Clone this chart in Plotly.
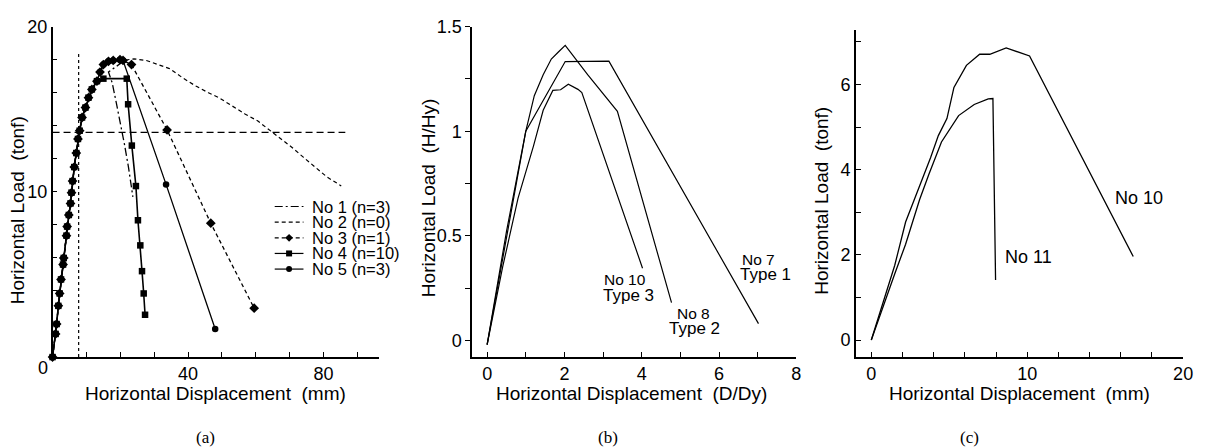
import plotly.graph_objects as go

W, H = 1210, 448
SANS = "Liberation Sans, Arial, Helvetica, sans-serif"
SERIF = "Liberation Serif, Times New Roman, serif"
INK = "black"

# ---------------- (a) load - displacement, specimens No 1 - No 5 ----------------
# common rising branch (lower part, shared by all specimens)
rise_low_disp = [0, 0.9, 1.2, 1.7, 2.1, 2.5, 3.1, 3.3, 4.1, 4.3, 4.8, 5.3, 5.6, 5.9,
                 6.4, 7.0, 7.5, 8.0, 8.7, 9.7, 10.6, 11.6, 13.1]
rise_low_load = [0, 1.4, 2.0, 3.1, 3.85, 4.7, 5.6, 6.0, 7.35, 7.9, 8.6, 9.3, 9.95, 10.65,
                 11.5, 12.35, 13.2, 13.7, 14.5, 15.1, 15.7, 16.2, 16.7]
# upper part of the rising branch up to the peak
rise_top_disp = [14.0, 15.0, 16.5, 17.9, 19.9, 20.8]
rise_top_load = [17.25, 17.7, 17.9, 17.95, 18.0, 17.95]

# post-peak branches
no1_disp = [16.5, 17.6, 18.8, 20.0, 21.2, 22.4, 23.7]
no1_load = [17.25, 16.6, 15.4, 14.2, 12.9, 11.5, 9.7]
no2_disp = [24.0, 27.7, 31.0, 34.5, 38.4, 42.3, 46.0, 49.1, 53.0, 56.9, 60.5, 63.7,
            67.0, 70.6, 74.0, 77.4, 81.0, 85.2]
no2_load = [18.05, 17.95, 17.7, 17.46, 16.9, 16.4, 16.0, 15.7, 15.2, 14.7, 14.3, 13.8,
            13.3, 12.7, 12.1, 11.5, 10.9, 10.36]
no3_disp = [23.3, 33.8, 46.7, 59.5]
no3_load = [17.7, 13.75, 8.1, 2.96]
no4_disp = [15.0, 21.9, 22.3, 23.4, 24.6, 25.2, 25.9, 26.4, 26.9, 27.3]
no4_load = [16.85, 16.85, 15.3, 12.8, 10.35, 8.28, 6.76, 5.2, 3.85, 2.56]
no5_disp = [33.5, 48.0]
no5_load = [10.45, 1.7]

# yield reference lines
yield_disp = 7.7
yield_line_top = 18.5
yield_load = 13.6
yield_line_end = 86.4

legend_names = ["No 1 (n=3)", "No 2 (n=0)", "No 3 (n=1)", "No 4 (n=10)", "No 5 (n=3)"]

# ---------------- (b) normalised load - displacement ----------------
b7_disp = [0, 0.5, 1.0, 2.02, 3.15, 7.02]
b7_load = [-0.02, 0.5, 1.0, 1.333, 1.335, 0.08]
b8_disp = [0, 0.5, 1.0, 1.22, 1.45, 1.66, 1.85, 2.02, 2.6, 3.37, 4.77]
b8_load = [-0.02, 0.52, 1.0, 1.17, 1.27, 1.345, 1.38, 1.41, 1.27, 1.095, 0.18]
b10_disp = [0, 0.4, 0.8, 1.2, 1.45, 1.7, 1.9, 2.1, 2.35, 2.45, 4.02]
b10_load = [-0.02, 0.35, 0.68, 0.93, 1.1, 1.195, 1.198, 1.225, 1.2, 1.185, 0.345]

# ---------------- (c) load - displacement, No 10 and No 11 ----------------
c10_disp = [0, 0.8, 1.5, 2.2, 3.25, 3.8, 4.3, 4.85, 5.3, 6.1, 6.95, 7.6, 8.65, 10.15, 16.8]
c10_load = [0, 0.95, 1.75, 2.77, 3.75, 4.28, 4.8, 5.2, 5.93, 6.45, 6.71, 6.71, 6.86, 6.67, 1.96]
c11_disp = [0, 0.8, 1.5, 2.2, 3.1, 3.7, 4.5, 5.6, 6.6, 7.5, 7.8, 7.97]
c11_load = [0, 0.85, 1.55, 2.25, 3.3, 3.9, 4.65, 5.27, 5.53, 5.66, 5.67, 1.41]


def fx(px):
    return px / W


def fy(py):
    return 1 - py / H


fig = go.Figure()
LW = 1.3


def line(x, y, ax, dash="solid", marker=None, width=LW):
    kw = dict(x=x, y=y, xaxis="x" + ax, yaxis="y" + ax, showlegend=False,
              hoverinfo="skip", cliponaxis=False,
              line=dict(color=INK, width=width, dash=dash))
    if marker:
        kw["mode"] = "lines+markers"
        kw["marker"] = dict(symbol=marker[0], size=marker[1], color=INK,
                            line=dict(width=0))
    else:
        kw["mode"] = "lines"
    fig.add_trace(go.Scatter(**kw))


# ---- panel (a)
line([yield_disp, yield_disp], [0, yield_line_top], "", dash="3px,3px", width=1.2)
line([0, yield_line_end], [yield_load, yield_load], "", dash="7px,4px", width=1.2)
line(rise_low_disp + rise_top_disp + no2_disp, rise_low_load + rise_top_load + no2_load,
     "", dash="4px,3px", width=1.2)
line(rise_low_disp + rise_top_disp + [19.9] + no1_disp,
     rise_low_load + rise_top_load + [17.75] + no1_load, "", dash="8px,3px,2px,3px")
line(rise_low_disp + rise_top_disp + no3_disp, rise_low_load + rise_top_load + no3_load,
     "", dash="4px,3px", marker=("diamond", 7.5))
line(rise_low_disp + rise_top_disp + no5_disp, rise_low_load + rise_top_load + no5_load,
     "", marker=("circle", 6.5))
line(rise_low_disp + no4_disp, rise_low_load + no4_load, "", width=1.6,
     marker=("square", 6.5))

# ---- panel (b)
for xs, ys in [(b7_disp, b7_load), (b8_disp, b8_load), (b10_disp, b10_load)]:
    line(xs, ys, "2", width=1.2)

# ---- panel (c)
for xs, ys in [(c10_disp, c10_load), (c11_disp, c11_load)]:
    line(xs, ys, "3", width=1.3)

# ---- hand-drawn legend for panel (a), on a pixel overlay
legend_styles = [("8px,3px,2px,3px", None), ("4px,3px", None), ("4px,3px", "diamond"),
                 ("solid", "square"), ("solid", "circle")]
legend_x0, legend_x1, legend_text_x = 277, 306, 313
legend_rows = [201, 217, 233, 249, 265]
annotations = []
for name, (dash, sym), ry in zip(legend_names, legend_styles, legend_rows):
    fig.add_trace(go.Scatter(x=[legend_x0, legend_x1], y=[ry, ry], xaxis="x4", yaxis="y4",
                             mode="lines", line=dict(color=INK, width=1.2, dash=dash),
                             showlegend=False, hoverinfo="skip"))
    if sym:
        fig.add_trace(go.Scatter(x=[(legend_x0 + legend_x1) / 2], y=[ry], xaxis="x4",
                                 yaxis="y4", mode="markers",
                                 marker=dict(symbol=sym, size=6, color=INK),
                                 showlegend=False, hoverinfo="skip"))
    annotations.append(dict(text=name, x=fx(legend_text_x), y=fy(ry), xref="paper",
                            yref="paper", xanchor="left", yanchor="middle", showarrow=False,
                            font=dict(family=SANS, size=16.5, color=INK)))


def txt(s, px, py, size=19, angle=0, family=SANS, xanchor="center"):
    annotations.append(dict(text=s, x=fx(px), y=fy(py), xref="paper", yref="paper",
                            xanchor=xanchor, yanchor="middle", showarrow=False,
                            textangle=angle, font=dict(family=family, size=size, color=INK)))


# axis titles
txt("Horizontal Displacement  (mm)", 217, 392)
txt("Horizontal Load  (tonf)", 18, 205, angle=-90)
txt("Horizontal Displacement  (D/Dy)", 637, 392)
txt("Horizontal Load  (H/Hy)", 432, 192, angle=-90)
txt("Horizontal Displacement  (mm)", 1028, 392)
txt("Horizontal Load  (tonf)", 828, 195, angle=-90)
# corner zero of panel (a)
txt("0", 43, 366, size=18)
# panel captions
txt("(a)", 207, 437, size=17, family=SERIF)
txt("(b)", 613, 437, size=17, family=SERIF)
txt("(c)", 978, 437, size=17, family=SERIF)


# curve labels
def lab(s, x, y, ax, size, xanchor="center"):
    annotations.append(dict(text=s, x=x, y=y, xref="x" + ax, yref="y" + ax,
                            xanchor=xanchor, yanchor="middle", showarrow=False,
                            font=dict(family=SANS, size=size, color=INK)))


lab("No 10", 3.57, 0.29, "2", 15.5)
lab("Type 3", 3.67, 0.215, "2", 17)
lab("No 8", 5.34, 0.13, "2", 15.5)
lab("Type 2", 5.37, 0.055, "2", 17)
lab("No 7", 7.02, 0.385, "2", 15.5)
lab("Type 1", 7.19, 0.315, "2", 17)
lab("No 10", 15.5, 3.34, "3", 18, "left")
lab("No 11", 8.45, 1.94, "3", 18, "left")


def axis(domain, rng, tickvals, ticktext, ticks, anchor):
    return dict(domain=domain, range=rng, tickvals=tickvals, ticktext=ticktext,
                ticks=ticks, ticklen=5, tickwidth=1.2, tickcolor=INK,
                showline=True, linecolor=INK, linewidth=1.5, showgrid=False,
                zeroline=False, anchor=anchor, fixedrange=True,
                tickfont=dict(family=SANS, size=18, color=INK))


def labels(vals, shown):
    return [(("%g" % v) if v in shown else "") for v in vals]


ya_bottom, ya_top = fy(355), fy(17)
xa_vals = list(range(0, 100, 10))
ya_vals = list(range(0, 22, 2))
xb_vals = list(range(0, 9))
yb_vals = [0, 0.25, 0.5, 0.75, 1.0, 1.25, 1.5]
xc_vals = list(range(0, 22, 2))
yc_vals = list(range(0, 8))

fig.update_layout(
    width=W, height=H, margin=dict(l=0, r=0, t=0, b=0),
    paper_bgcolor="white", plot_bgcolor="rgba(0,0,0,0)", showlegend=False,
    xaxis=axis([fx(53), fx(382)], [0, 96.3], xa_vals, labels(xa_vals, [40, 80]), "inside", "y"),
    yaxis=axis([ya_bottom, ya_top], [0, 20], ya_vals, labels(ya_vals, [10, 20]), "inside", "x"),
    xaxis2=axis([fx(476), fx(803)], [-0.39, 8], xb_vals, labels(xb_vals, [0, 2, 4, 6, 8]),
                "inside", "y2"),
    yaxis2=axis([ya_bottom, ya_top], [-0.08, 1.5], yb_vals,
                ["0", "", "0.5", "", "1", "", "1.5"], "outside", "x2"),
    xaxis3=axis([fx(863), fx(1193)], [-0.99, 20], xc_vals, labels(xc_vals, [0, 10, 20]),
                "inside", "y3"),
    yaxis3=axis([ya_bottom, fy(20)], [-0.40, 7.29], yc_vals, labels(yc_vals, [0, 2, 4, 6]),
                "inside", "x3"),
    xaxis4=dict(domain=[0, 1], range=[0, W], visible=False, fixedrange=True, anchor="y4"),
    yaxis4=dict(domain=[0, 1], range=[H, 0], visible=False, fixedrange=True, anchor="x4"),
    annotations=annotations,
)

fig.write_html("out.html")
